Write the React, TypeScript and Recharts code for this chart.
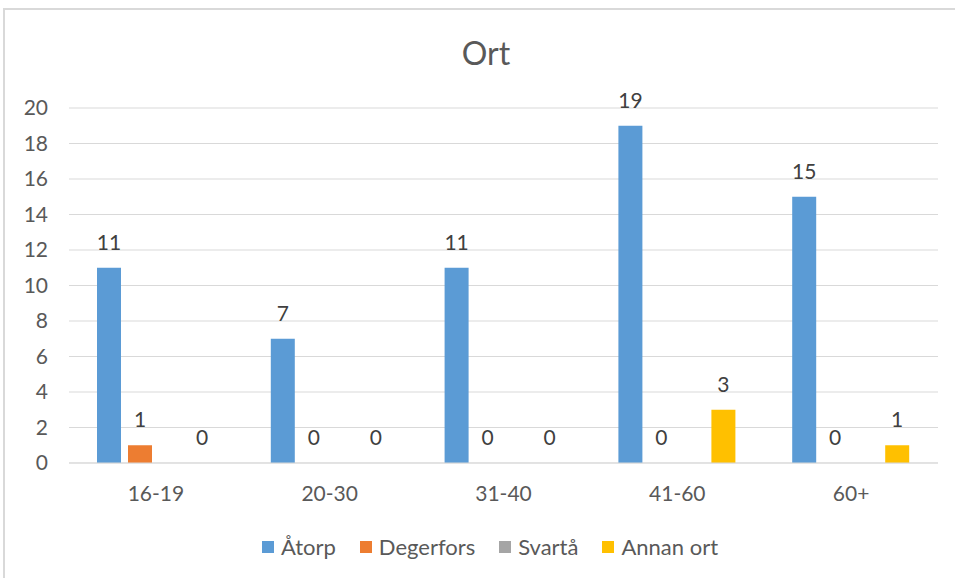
import React from 'react';
import {
  Bar,
  BarChart,
  CartesianGrid,
  LabelList,
  XAxis,
  YAxis,
} from 'recharts';

const ageGroups = ['16-19', '20-30', '31-40', '41-60', '60+'];
const atorp = [11, 7, 11, 19, 15];
const degerfors = [1, 0, 0, 0, 0];
const svarta: (number | null)[] = [null, null, null, null, null];
const annanOrt = [0, 0, 0, 3, 1];
const yTicks = [0, 2, 4, 6, 8, 10, 12, 14, 16, 18, 20];

const seriesList = [
  { key: 'atorp', name: 'Åtorp', color: '#5B9BD5' },
  { key: 'degerfors', name: 'Degerfors', color: '#ED7D31' },
  { key: 'svarta', name: 'Svartå', color: '#A5A5A5' },
  { key: 'annanOrt', name: 'Annan ort', color: '#FFC000' },
];

const data = ageGroups.map((group, i) => ({
  group,
  atorp: atorp[i],
  degerfors: degerfors[i],
  svarta: svarta[i],
  annanOrt: annanOrt[i],
}));

const FONT = 'Lato, "Open Sans", sans-serif';

export default function App() {
  return (
    <div style={{ position: 'absolute', left: 0, top: 0, width: 955, height: 578, background: '#fff' }}>
      <div
        style={{
          position: 'absolute',
          left: 3,
          top: 8,
          width: 952,
          height: 570,
          borderLeft: '2px solid #d9d9d9',
          borderTop: '2px solid #d9d9d9',
        }}
      />
      <div
        style={{
          position: 'absolute',
          left: 0,
          width: 972,
          top: 33,
          textAlign: 'center',
          fontFamily: FONT,
          fontSize: 32,
          lineHeight: '40px',
          color: '#595959',
        }}
      >
        Ort
      </div>
      <div style={{ position: 'absolute', left: 0, top: 0 }}>
        <BarChart
          width={955}
          height={578}
          data={data}
          margin={{ top: 108, right: 17, left: 0, bottom: 85 }}
          barSize={24}
          barGap={7}
        >
          <CartesianGrid stroke="#d9d9d9" vertical={false} />
          <XAxis
            dataKey="group"
            height={30}
            axisLine={{ stroke: '#d9d9d9' }}
            tickLine={false}
            tickMargin={17}
            tick={{ fill: '#595959', fontSize: 21, fontFamily: FONT }}
          />
          <YAxis
            domain={[0, 20]}
            ticks={yTicks}
            axisLine={false}
            tickLine={false}
            width={69}
            tickMargin={15}
            tick={{ fill: '#595959', fontSize: 21, fontFamily: FONT }}
          />
          {seriesList.map((s) => (
            <Bar
              key={s.key}
              dataKey={s.key}
              name={s.name}
              fill={s.color}
              minPointSize={0.01}
              isAnimationActive={false}
            >
              <LabelList
                dataKey={s.key}
                position="top"
                offset={18}
                fill="#404040"
                fontSize={21}
                fontFamily={FONT}
              />
            </Bar>
          ))}
        </BarChart>
      </div>
      <div
        style={{
          position: 'absolute',
          left: 0,
          width: 980,
          top: 534,
          display: 'flex',
          justifyContent: 'center',
          gap: 24,
          fontFamily: FONT,
        }}
      >
        {seriesList.map((s) => (
          <div key={s.key} style={{ display: 'flex', alignItems: 'center', gap: 7 }}>
            <span style={{ width: 12, height: 12, background: s.color, display: 'inline-block' }} />
            <span style={{ fontSize: 22, lineHeight: '26px', color: '#595959' }}>{s.name}</span>
          </div>
        ))}
      </div>
    </div>
  );
}
